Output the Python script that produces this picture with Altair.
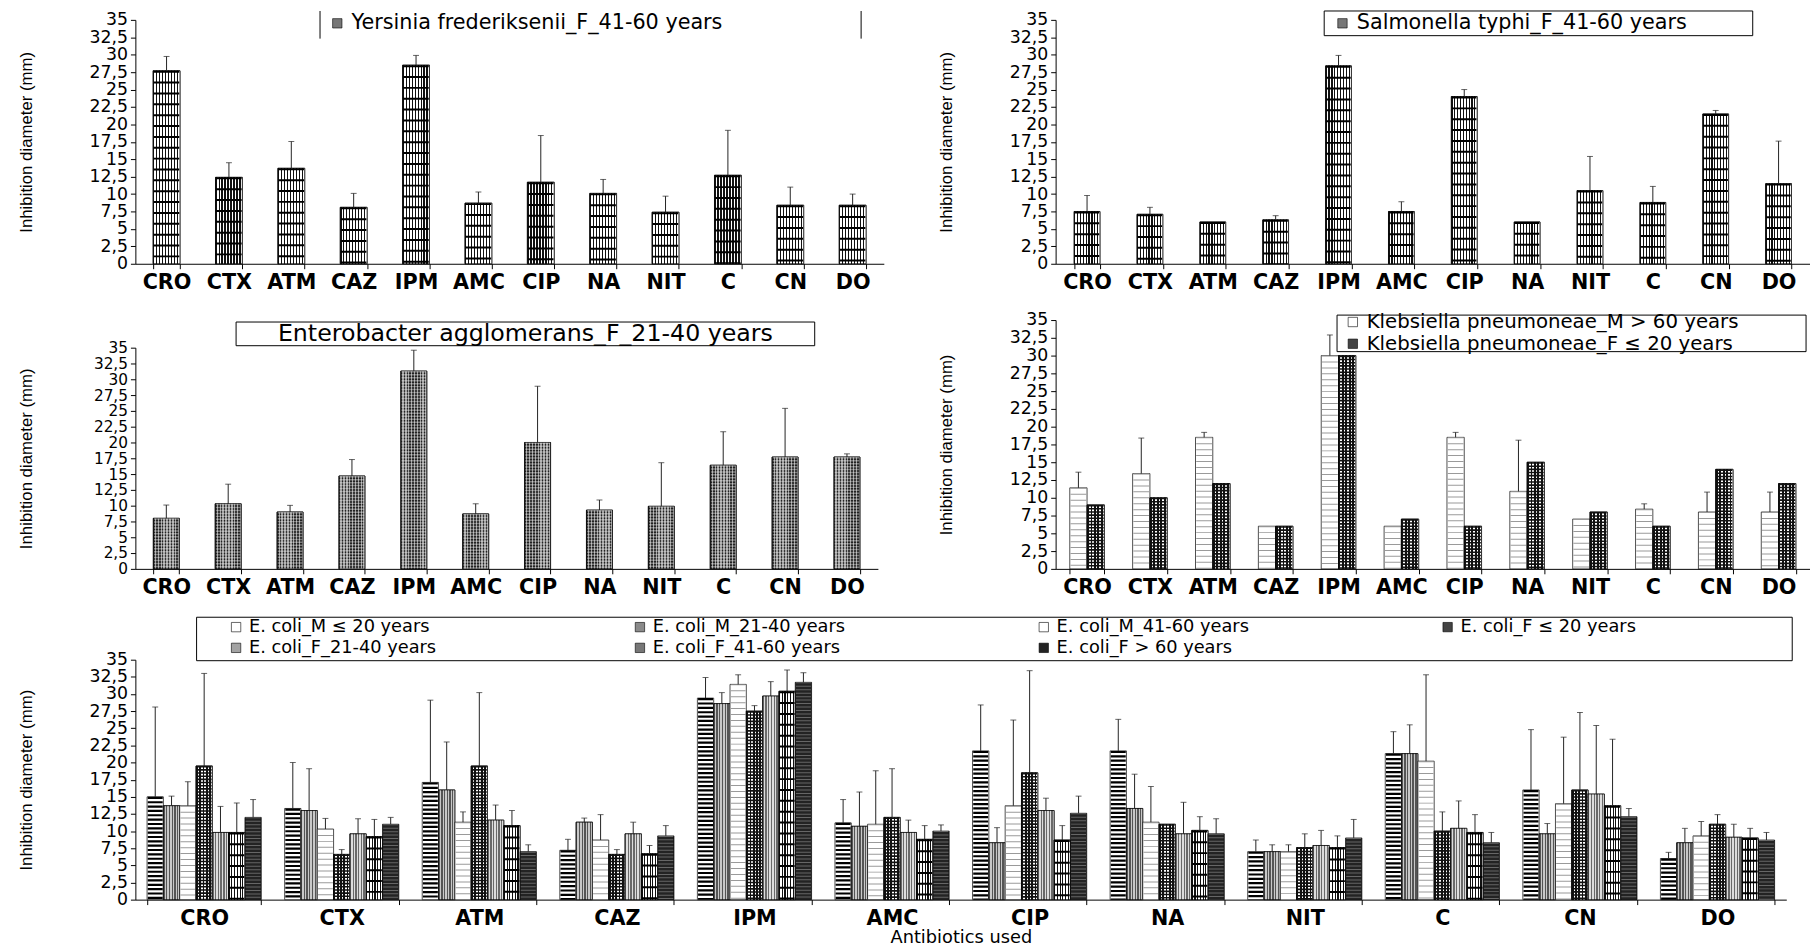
import altair as alt
import pandas as pd

# ---------------- data ----------------
ANTIBIOTICS = ["CRO", "CTX", "ATM", "CAZ", "IPM", "AMC", "CIP", "NA", "NIT", "C", "CN", "DO"]
Y_TICKS = [0, 2.5, 5, 7.5, 10, 12.5, 15, 17.5, 20, 22.5, 25, 27.5, 30, 32.5, 35]
Y_TITLE = "Inhibition diameter (mm)"
X_TITLE = "Antibiotics used"

YERSINIA = ["Yersinia frederiksenii_F_41-60 years"]
yersinia_mean = [27.7, 12.4, 13.7, 8.1, 28.5, 8.7, 11.7, 10.1, 7.4, 12.7, 8.4, 8.4]
yersinia_sd = [2.05, 2.1, 3.85, 2.0, 1.4, 1.6, 6.7, 2.0, 2.3, 6.45, 2.6, 1.6]

SALMONELLA = ["Salmonella typhi_F_41-60 years"]
salmonella_mean = [7.5, 7.1, 6.0, 6.3, 28.4, 7.5, 24.0, 6.0, 10.5, 8.8, 21.5, 11.5]
salmonella_sd = [2.3, 1.0, 0, 0.6, 1.5, 1.4, 1.0, 0, 4.9, 2.3, 0.5, 6.1]

ENTEROBACTER = ["Enterobacter agglomerans_F_21-40 years"]
enterobacter_mean = [8.0, 10.3, 9.0, 14.7, 31.3, 8.7, 20.0, 9.3, 9.9, 16.4, 17.7, 17.7]
enterobacter_sd = [2.1, 3.1, 1.05, 2.6, 3.3, 1.6, 8.9, 1.6, 6.9, 5.3, 7.7, 0.5]

KLEBSIELLA = ["Klebsiella pneumoneae_M > 60 years", "Klebsiella pneumoneae_F \u2264 20 years"]
kleb_m_mean = [11.4, 13.4, 18.5, 6.0, 30.0, 6.0, 18.5, 10.9, 7.0, 8.4, 8.0, 8.0]
kleb_m_sd = [2.2, 5.0, 0.7, 0, 2.9, 0, 0.7, 7.2, 0, 0.75, 2.8, 2.8]
kleb_f_mean = [9.0, 10.0, 12.0, 6.0, 30.0, 7.0, 6.0, 15.0, 8.0, 6.0, 14.0, 12.0]
kleb_f_sd = [0, 0, 0, 0, 0, 0, 0, 0, 0, 0, 0, 0]

ECOLI = ["E. coli_M \u2264 20 years", "E. coli_M_21-40 years", "E. coli_M_41-60 years",
         "E. coli_F \u2264 20 years", "E. coli_F_21-40 years", "E. coli_F_41-60 years",
         "E. coli_F > 60 years"]
ecoli_m20_mean = [15.0, 13.3, 17.1, 7.2, 29.4, 11.2, 21.7, 21.7, 7.0, 21.3, 16.0, 6.0]
ecoli_m20_sd = [13.1, 6.7, 12.0, 1.6, 3.0, 3.4, 6.7, 4.6, 1.7, 3.2, 8.8, 0.9]
ecoli_m40_mean = [13.7, 13.0, 16.0, 11.3, 28.6, 10.7, 8.3, 13.3, 7.0, 21.3, 9.6, 8.3]
ecoli_m40_sd = [1.4, 6.1, 7.0, 0.6, 1.6, 5.0, 2.2, 5.0, 1.0, 4.2, 1.5, 2.1]
ecoli_m60_mean = [13.7, 10.3, 11.3, 8.7, 31.4, 11.0, 13.7, 11.3, 7.0, 20.2, 14.0, 9.3]
ecoli_m60_sd = [3.5, 1.55, 1.5, 3.7, 1.4, 7.8, 12.5, 5.2, 1.0, 12.6, 9.7, 2.1]
ecoli_f20_mean = [19.5, 6.6, 19.5, 6.6, 27.5, 12.0, 18.5, 11.0, 7.6, 10.0, 16.0, 11.0]
ecoli_f20_sd = [13.5, 0.7, 10.7, 0.7, 0.8, 7.1, 14.9, 0, 2.0, 2.8, 11.3, 1.4]
ecoli_f40_mean = [9.8, 9.6, 11.6, 9.6, 29.7, 9.8, 13.0, 9.6, 7.9, 10.4, 15.4, 9.1]
ecoli_f40_sd = [3.8, 2.2, 2.2, 1.7, 2.1, 1.8, 1.8, 4.6, 2.2, 4.0, 10.0, 1.9]
ecoli_f60_mean = [9.8, 9.2, 10.8, 6.7, 30.4, 8.8, 8.7, 10.1, 7.6, 9.8, 13.7, 9.0]
ecoli_f60_sd = [4.3, 2.5, 2.2, 1.2, 3.1, 2.0, 2.1, 2.0, 1.7, 2.6, 9.7, 1.4]
ecoli_f61_mean = [12.0, 11.0, 7.0, 9.3, 31.7, 10.0, 12.6, 9.6, 9.0, 8.3, 12.1, 8.7]
ecoli_f61_sd = [2.6, 1.0, 1.0, 1.5, 1.4, 0.9, 2.5, 2.2, 2.7, 1.5, 1.2, 1.1]


def make_df(names, means, sds):
    rows = []
    for name, m, s in zip(names, means, sds):
        for ab, mv, sv in zip(ANTIBIOTICS, m, s):
            rows.append({"ab": ab, "series": name, "mean": mv, "sd": sv})
    return pd.DataFrame(rows)


df_yer = make_df(YERSINIA, [yersinia_mean], [yersinia_sd])
df_sal = make_df(SALMONELLA, [salmonella_mean], [salmonella_sd])
df_ent = make_df(ENTEROBACTER, [enterobacter_mean], [enterobacter_sd])
df_kle = make_df(KLEBSIELLA, [kleb_m_mean, kleb_f_mean], [kleb_m_sd, kleb_f_sd])
df_eco = make_df(ECOLI,
                 [ecoli_m20_mean, ecoli_m40_mean, ecoli_m60_mean, ecoli_f20_mean,
                  ecoli_f40_mean, ecoli_f60_mean, ecoli_f61_mean],
                 [ecoli_m20_sd, ecoli_m40_sd, ecoli_m60_sd, ecoli_f20_sd,
                  ecoli_f40_sd, ecoli_f60_sd, ecoli_f61_sd])

# ---------------- styling ----------------
LABEL_EXPR = "replace(format(datum.value, '.1~f'), '.', ',')"

PATTERNS = {
    "vlines": {"fill": "#777777", "grad": (3.0, "#111111", "#ffffff", 0.42), "dash": ([2, 9], "#000000", 1.0)},
    "hlines": {"fill": "#ffffff", "dash": ([2.2, 2.2], "#000000", 1.0)},
    "dots": {"fill": "#ffffff", "dash": ([1, 5], "#9a9a9a", 1.0)},
    "grid": {"fill": "#444444", "grad": (3.3, "#111111", "#ffffff", 0.55), "dash": ([1.6, 1.6], "#111111", 1.0)},
    "diagA": {"fill": "#8a8a8a", "grad": (2.6, "#555555", "#c8c8c8", 0.5)},
    "diagB": {"fill": "#a3a3a3", "grad": (2.6, "#6a6a6a", "#dddddd", 0.5)},
    "dark": {"fill": "#232323", "dash": ([1, 2.5], "#666666", 1.0)},
    "hatch": {"fill": "#666666", "grad": (3.0, "#222222", "#999999", 0.5), "dash": ([1.5, 1.5], "#ffffff", 0.4)},
}


def stripe_gradient(width_px, period, dark, light, frac):
    n = max(1, int(round(width_px / period)))
    stops = []
    for i in range(n):
        a = i / n
        b = (i + frac) / n
        c = min(1.0, (i + 1) / n)
        stops += [alt.GradientStop(offset=a, color=dark), alt.GradientStop(offset=b, color=dark),
                  alt.GradientStop(offset=b, color=light), alt.GradientStop(offset=c, color=light)]
    return alt.LinearGradient(gradient="linear", stops=stops, x1=0, x2=1, y1=0, y2=0)


def y_axis(label_size):
    return alt.Axis(values=Y_TICKS, labelExpr=LABEL_EXPR, title=Y_TITLE, titleFont="Liberation Sans",
                    titleFontSize=17, titleFontWeight="normal", titleColor="black", titleX=-101,
                    labelFont="DejaVu Sans", labelFontSize=label_size, labelColor="black", tickColor="black",
                    domainColor="black", tickSize=5, labelPadding=3, grid=False, labelOverlap=False)


def x_axis(title):
    kw = dict(labelAngle=0, labelFont="DejaVu Sans", labelFontWeight="bold", labelFontSize=21,
              labelColor="black", tickBand="extent", tickSize=5, domainColor="black", tickColor="black",
              labelPadding=3, grid=False)
    if title:
        return alt.Axis(title=title, titleFont="DejaVu Sans", titleFontSize=18, titleFontWeight="normal",
                        titleColor="black", titlePadding=0, **kw)
    return alt.Axis(title=None, **kw)


def deco_rect(x1, x2, y1, y2):
    return alt.Chart(alt.Data(values=[{"d": 1}])).mark_rect(
        fillOpacity=0, stroke="black", strokeWidth=1).encode(
        x=alt.value(x1), x2=alt.value(x2), y=alt.value(y1), y2=alt.value(y2))


def deco_vline(x, y1, y2):
    return alt.Chart(alt.Data(values=[{"d": 1}])).mark_rule(color="black", strokeWidth=1).encode(
        x=alt.value(x), y=alt.value(y1), y2=alt.value(y2))


def deco_text(text, x, y, size):
    return alt.Chart(alt.Data(values=[{"d": 1}])).mark_text(
        text=text, font="DejaVu Sans", fontSize=size, color="black", align="center", baseline="middle").encode(
        x=alt.value(x), y=alt.value(y))


def bar_panel(df, order, kinds, width, height, ytop, pad, legend, extras, x_title=None, label_size=17.5):
    n = len(ANTIBIOTICS)
    k = len(order)
    band = width / n * (1 - pad)
    sub = band / k
    xa = x_axis(x_title)
    ya = y_axis(label_size)
    xsc = alt.Scale(type="band", domain=ANTIBIOTICS, paddingInner=pad, paddingOuter=pad / 2)
    ysc = alt.Scale(domain=[0, 35], range=[height, ytop], nice=False, zero=True)
    x = alt.X("ab:N", sort=ANTIBIOTICS, scale=xsc, axis=xa)
    fills = [PATTERNS[kk]["fill"] for kk in kinds]
    color = alt.Color("series:N", scale=alt.Scale(domain=order, range=fills), legend=legend)
    layers = []
    for j, (s, kind) in enumerate(zip(order, kinds)):
        off = (j - (k - 1) / 2) * sub
        p = PATTERNS[kind]
        sdf = alt.Chart(df).transform_filter(alt.datum.series == s)
        layers.append(sdf.mark_bar(width=sub, xOffset=off, stroke="black", strokeWidth=0.7).encode(
            x=x, y=alt.Y("mean:Q", scale=ysc, axis=ya, stack=None), color=color))
        if "grad" in p:
            layers.append(sdf.mark_bar(width=sub, xOffset=off, fill=stripe_gradient(sub, *p["grad"]),
                                       stroke="black", strokeWidth=0.7).encode(
                x=x, y=alt.Y("mean:Q", scale=ysc, axis=ya, stack=None)))
        if "dash" in p:
            dash, col, op = p["dash"]
            layers.append(sdf.mark_rule(xOffset=off, strokeWidth=sub - 1.4, strokeDash=dash,
                                        color=col, opacity=op).encode(
                x=x, y=alt.Y("mean:Q", scale=ysc, axis=ya), y2=alt.datum(0)))
        err = sdf.transform_filter("datum.sd > 0").transform_calculate(top="datum.mean + datum.sd")
        layers.append(err.mark_rule(xOffset=off, color="#222222", strokeWidth=1).encode(
            x=x, y=alt.Y("mean:Q", scale=ysc, axis=ya), y2="top:Q"))
        layers.append(err.mark_tick(xOffset=off, color="#222222", thickness=1, size=6).encode(
            x=x, y=alt.Y("top:Q", scale=ysc, axis=ya)))
    layers += extras
    return alt.layer(*layers).properties(width=width, height=height)


def legend(x, y, size, columns=1, col_pad=10, row_pad=2):
    return alt.Legend(title=None, orient="none", legendX=x, legendY=y, columns=columns,
                      direction="horizontal" if columns > 1 else "vertical",
                      symbolType="square", symbolSize=90, symbolStrokeColor="black",
                      symbolStrokeWidth=0.6, labelFont="DejaVu Sans", labelFontSize=size,
                      labelColor="black", labelLimit=800, rowPadding=row_pad, columnPadding=col_pad,
                      gridAlign="all", padding=0, labelOffset=4)


tl = bar_panel(df_yer, YERSINIA, ["vlines"], 758, 254, 7, 0.57, legend(194, 0, 21),
               [deco_vline(187, -2, 26), deco_vline(735, -2, 26)])
tr = bar_panel(df_sal, SALMONELLA, ["vlines"], 764, 254, 7, 0.59, legend(280, 0, 21),
               [deco_rect(272, 706, -2, 23)])
ml = bar_panel(df_ent, ENTEROBACTER, ["hatch"], 752, 263, 39, 0.58, None,
               [deco_rect(102, 688, 13, 37), deco_text(ENTEROBACTER[0], 395, 25, 24)],
               label_size=15.5)
mr = bar_panel(df_kle, KLEBSIELLA, ["dots", "grid"], 764, 263, 11, 0.45, legend(291, 3, 20),
               [deco_rect(285, 760, 6, 43)])
bot = bar_panel(df_eco, ECOLI, ["hlines", "diagA", "dots", "grid", "diagB", "vlines", "dark"],
                1672, 298, 55, 0.17, legend(93, 13, 18, columns=4, col_pad=192, row_pad=3),
                [deco_rect(62, 1678, 12, 56)], x_title=X_TITLE)

row1 = alt.hconcat(tl, tr, spacing=54).resolve_scale(color="independent")
row2 = alt.hconcat(ml, mr, spacing=60).resolve_scale(color="independent")
top_rows = alt.vconcat(row1, row2, spacing=17).resolve_scale(color="independent")

chart = alt.vconcat(top_rows, bot, spacing=8).resolve_scale(color="independent").properties(
    padding={"left": 9, "top": -4, "right": 0, "bottom": 0}
).configure_view(stroke="transparent", strokeWidth=0)

chart.save("out.html", embed_options={"renderer": "svg", "actions": False})
